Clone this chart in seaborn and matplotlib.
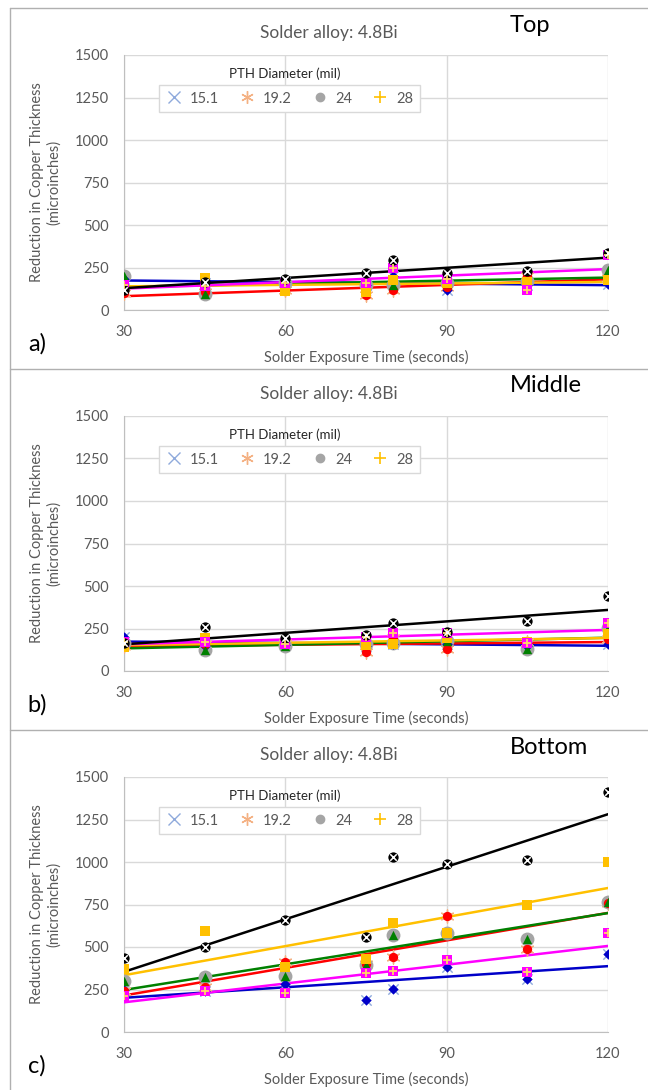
import matplotlib
matplotlib.use("Agg")
import matplotlib.pyplot as plt
from matplotlib.lines import Line2D
import seaborn as sns
import pandas as pd

# exposure times (seconds)
times = [30, 45, 60, 75, 80, 90, 105, 120]

# a) Top
top_blue = [180, 160, 165, 150, 200, 117, 150, 155]
top_red = [100, 105, 120, 90, 117, 133, 199, 190]
top_green = [199, 92, 160, 150, 146, 160, 170, 234]
top_gold = [140, 186, 111, 107, 176, 156, 166, 176]
top_magenta = [146, 141, 156, 156, 250, 180, 117, 326]
top_black = [120, 162, 180, 215, 297, 219, 228, 335]

# b) Middle
mid_blue = [200, 150, 155, 150, 160, 160, 150, 160]
mid_red = [150, 160, 165, 110, 193, 128, 170, 190]
mid_green = [165, 124, 150, 160, 165, 175, 128, 252]
mid_gold = [144, 193, 160, 153, 157, 193, 170, 216]
mid_magenta = [173, 169, 159, 199, 226, 226, 167, 281]
mid_black = [165, 258, 193, 212, 281, 230, 297, 440]

# c) Bottom
bot_blue = [245, 240, 284, 189, 253, 381, 312, 460]
bot_red = [240, 264, 412, 400, 442, 683, 489, 760]
bot_green = [302, 324, 328, 393, 570, 585, 549, 762]
bot_gold = [373, 594, 383, 432, 643, 580, 748, 1000]
bot_magenta = [209, 239, 227, 349, 359, 422, 353, 584]
bot_black = [436, 501, 657, 558, 1030, 990, 1010, 1410]

panel_names = ["Top", "Middle", "Bottom"]
panel_tags = ["a)", "b)", "c)"]
legend_sizes = ["15.1", "19.2", "24", "28"]

panels = [
    [top_blue, top_red, top_green, top_gold, top_magenta, top_black],
    [mid_blue, mid_red, mid_green, mid_gold, mid_magenta, mid_black],
    [bot_blue, bot_red, bot_green, bot_gold, bot_magenta, bot_black],
]

series_names = ["blue", "red", "green", "gold", "magenta", "black"]
line_colors = ["#0000c8", "#ff0000", "#008000", "#ffc000", "#ff00ff", "#000000"]

sns.set_style("whitegrid")
plt.rcParams["font.family"] = ["Lato", "DejaVu Sans"]

W, H = 648, 1090
fig = plt.figure(figsize=(W / 100, H / 100), dpi=100)

GRAY = "#595959"
GRID = "#d9d9d9"
offsets = [0, 361, 722]


def fx(x):
    return x / W


def fy(y):
    return 1 - y / H


for i, off in enumerate(offsets):
    ax = fig.add_axes([fx(124), fy(310 + off), 484 / W, 255 / H])

    rows = []
    for name, vals in zip(series_names, panels[i]):
        for t, v in zip(times, vals):
            rows.append({"time": t, "value": v, "series": name})
    df = pd.DataFrame(rows)

    # trend lines
    for name, col in zip(series_names, line_colors):
        sub = df[df["series"] == name]
        sns.regplot(data=sub, x="time", y="value", scatter=False, ci=None,
                    color=col, line_kws={"lw": 1.8, "zorder": 3}, ax=ax)

    # markers (Excel style: faded marker under the solid one)
    d = {n: df[df["series"] == n] for n in series_names}
    sns.scatterplot(data=d["blue"], x="time", y="value", marker="x", color="#8faadc",
                    s=55, linewidth=1, ax=ax, zorder=4, legend=False)
    sns.scatterplot(data=d["blue"], x="time", y="value", marker="D", color="#0000c8",
                    s=28, linewidth=0, ax=ax, zorder=5, legend=False)
    sns.scatterplot(data=d["red"], x="time", y="value", marker=(6, 2, 0), color="#f4b183",
                    s=90, linewidth=1, ax=ax, zorder=4, legend=False)
    sns.scatterplot(data=d["red"], x="time", y="value", marker="o", color="#ff0000",
                    s=45, linewidth=0, ax=ax, zorder=5, legend=False)
    sns.scatterplot(data=d["green"], x="time", y="value", marker="o", color="#a5a5a5",
                    s=100, linewidth=0, ax=ax, zorder=4, legend=False)
    sns.scatterplot(data=d["green"], x="time", y="value", marker="^", color="#008000",
                    s=45, linewidth=0, ax=ax, zorder=5, legend=False)
    sns.scatterplot(data=d["gold"], x="time", y="value", marker="s", color="#ffc000",
                    s=55, linewidth=0, ax=ax, zorder=5, legend=False)
    sns.scatterplot(data=d["magenta"], x="time", y="value", marker="s", color="#ff00ff",
                    s=55, linewidth=0, ax=ax, zorder=6, legend=False)
    sns.scatterplot(data=d["magenta"], x="time", y="value", marker="+", color="#ffd966",
                    s=40, linewidth=1.3, ax=ax, zorder=7, legend=False)
    sns.scatterplot(data=d["black"], x="time", y="value", marker="o", color="#000000",
                    s=55, linewidth=0, ax=ax, zorder=6, legend=False)
    sns.scatterplot(data=d["black"], x="time", y="value", marker="x", color="#ffffff",
                    s=22, linewidth=1.1, ax=ax, zorder=7, legend=False)

    ax.set_xlim(30, 120)
    ax.set_ylim(0, 1500)
    ax.set_xticks([30, 60, 90, 120])
    ax.set_yticks(range(0, 1501, 250))
    ax.grid(True, color=GRID, lw=1)
    for side in ["top", "right"]:
        ax.spines[side].set_visible(False)
    for side in ["left", "bottom"]:
        ax.spines[side].set_color("#bfbfbf")
    ax.tick_params(axis="both", length=0, pad=11, labelsize=10.5, labelcolor=GRAY)
    ax.set_xlabel("Solder Exposure Time (seconds)", fontsize=10.5, color=GRAY, labelpad=8)
    ax.set_ylabel("Reduction in Copper Thickness\n(microinches)", fontsize=10.5,
                  color=GRAY, labelpad=10)

    handles = [
        Line2D([], [], ls="none", marker="x", color="#8faadc", ms=8, mew=1),
        Line2D([], [], ls="none", marker=(6, 2, 0), color="#f4b183", ms=9, mew=1),
        Line2D([], [], ls="none", marker="o", color="#a5a5a5", ms=6),
        Line2D([], [], ls="none", marker="+", color="#ffc000", ms=9, mew=1.2),
    ]
    leg = ax.legend(handles, legend_sizes, ncol=4, loc="lower left",
                    bbox_to_anchor=(0.072, 0.776), borderaxespad=0, frameon=True,
                    fancybox=False, fontsize=10.5, handlelength=1.2, handletextpad=0.5,
                    columnspacing=1.3, borderpad=0.45, framealpha=1)
    leg.get_frame().set_edgecolor(GRID)
    for t in leg.get_texts():
        t.set_color(GRAY)
    ax.text(0.333, 0.925, "PTH Diameter (mil)", transform=ax.transAxes,
            ha="center", va="center", fontsize=9.5, color="#262626")

    fig.text(fx(329), fy(33 + off), "Solder alloy: 4.8Bi", ha="center", va="center",
             fontsize=12.5, color=GRAY)
    fig.text(fx(510), fy(25 + off), panel_names[i], ha="left", va="center",
             fontsize=17, color="black")
    fig.text(fx(37), fy(344 + off), panel_tags[i], ha="center", va="center",
             fontsize=17, color="black")

    # chart area frame lines
    fig.add_artist(Line2D([fx(10), 1], [fy(8 + off), fy(8 + off)], color="#b0b0b0", lw=1))

fig.add_artist(Line2D([fx(10), fx(10)], [fy(8), 0], color="#b0b0b0", lw=1))

fig.savefig("out.png", dpi=100)
